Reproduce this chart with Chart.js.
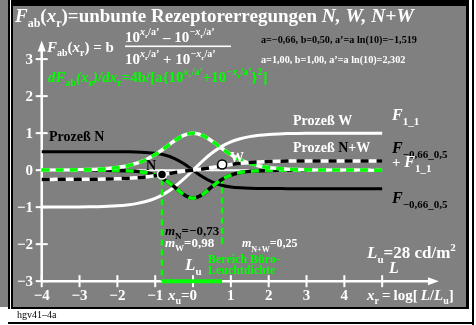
<!DOCTYPE html>
<html><head><meta charset="utf-8">
<script src="https://cdn.jsdelivr.net/npm/chart.js@4/dist/chart.umd.min.js"></script>
<style>html,body{margin:0;padding:0;background:#fff;overflow:hidden}canvas{display:block}</style>
</head><body>
<canvas id="c" width="476" height="325" style="width:476px;height:325px"></canvas>
<script>
// ---- data ----
const xr = [-4,-3.75,-3.5,-3.25,-3,-2.75,-2.5,-2.25,-2,-1.75,-1.5,-1.25,-1,-0.75,-0.5,-0.25,0,0.25,0.5,0.75,1,1.25,1.5,1.75,2,2.25,2.5,2.75,3,3.25,3.5,3.75,4,4.25,4.5,4.75,5];
const procW = [-0.999,-0.999,-0.998,-0.997,-0.995,-0.992,-0.987,-0.978,-0.964,-0.941,-0.905,-0.848,-0.762,-0.635,-0.462,-0.245,0,0.245,0.462,0.635,0.762,0.848,0.905,0.941,0.964,0.978,0.987,0.992,0.995,0.997,0.998,0.999,0.999,1,1,1,1];
const procN = [0.5,0.5,0.5,0.5,0.5,0.5,0.5,0.499,0.498,0.495,0.49,0.478,0.454,0.407,0.32,0.181,0,-0.181,-0.32,-0.407,-0.454,-0.478,-0.49,-0.495,-0.498,-0.499,-0.5,-0.5,-0.5,-0.5,-0.5,-0.5,-0.5,-0.5,-0.5,-0.5,-0.5];
const procNW = [-0.25,-0.25,-0.249,-0.249,-0.248,-0.246,-0.244,-0.24,-0.233,-0.223,-0.208,-0.185,-0.154,-0.114,-0.071,-0.032,0,0.032,0.071,0.114,0.154,0.185,0.208,0.223,0.233,0.24,0.244,0.246,0.248,0.249,0.249,0.25,0.25,0.25,0.25,0.25,0.25];
const slopeW = [0.001,0.002,0.004,0.006,0.01,0.016,0.027,0.044,0.071,0.114,0.181,0.28,0.42,0.597,0.786,0.94,1,0.94,0.786,0.597,0.42,0.28,0.181,0.114,0.071,0.044,0.027,0.016,0.01,0.006,0.004,0.002,0.001,0.001,0.001,0,0];
const slopeN = [0,0,0,0,0,-0.001,-0.002,-0.003,-0.007,-0.015,-0.032,-0.065,-0.133,-0.257,-0.448,-0.659,-0.758,-0.659,-0.448,-0.257,-0.133,-0.065,-0.032,-0.015,-0.007,-0.003,-0.002,-0.001,0,0,0,0,0,0,0,0,0];
const zeroLine = [0,0];
const zeroLineX = [-4,5];
const markerN = [-0.82,-0.12];
const markerW = [0.77,0.15];
const officeRange = [-0.82,0.77];
const guideN = [-0.25,-3];
const guideW = [-0.2,-2];
const xTicks = [-4,-3,-2,-1,0,1,2,3,4,5];
const xTickLabels = ['−4','−3','−2','−1','','1','2','3','4',''];
const yTicks = [-3,-2,-1,0,1,2,3];
const yTickLabels = ['−3','−2','−1','0','1','2','3'];
const axisX = [-4,6.5];
const axisY = [-3,3.5];

// ---- styles ----
const GRAY = '#808080', GREEN = '#00ff00', WHITE = '#ffffff', BLACK = '#000000';
const FONT = '"Liberation Serif","Times New Roman",serif';

const pts = ys => xr.map((x,i)=>({x, y: ys[i]}));
const line = (data, color, width, dash, order, extra) => Object.assign({
  data, borderColor: color, borderWidth: width, borderDash: dash || [],
  pointRadius: 0, fill: false, order, cubicInterpolationMode: 'monotone', borderCapStyle: 'butt'
}, extra || {});

function S(t, s, i, dy, c){ return {t, s, i: !!i, dy: dy || 0, c}; }
function rich(ctx, x, y, segs, color, align, weight){
  const w = weight || 'bold';
  let total = 0;
  segs.forEach(g => { ctx.font = (g.i ? 'italic ' : '') + w + ' ' + g.s + 'px ' + FONT; total += ctx.measureText(g.t).width; });
  if (align === 'right') x -= total; else if (align === 'center') x -= total / 2;
  ctx.textAlign = 'left'; ctx.textBaseline = 'alphabetic';
  segs.forEach(g => {
    ctx.font = (g.i ? 'italic ' : '') + w + ' ' + g.s + 'px ' + FONT;
    ctx.fillStyle = g.c || color;
    ctx.fillText(g.t, x, y + g.dy);
    x += ctx.measureText(g.t).width;
  });
  return x;
}
function expo(s){ // superscript x_r/a'
  return [S(s + 'x', 10, 1, -7), S('r', 7, 0, -4), S('/a’', 10, 0, -7)];
}

const deco = {
  id: 'deco',
  beforeDraw(chart){
    const ctx = chart.ctx;
    ctx.save();
    ctx.fillStyle = WHITE; ctx.fillRect(0, 0, 476, 325);
    ctx.fillStyle = GRAY; ctx.fillRect(0, 0, 8, 307);
    ctx.fillStyle = BLACK; ctx.fillRect(8, 0, 2, 309);
    ctx.fillRect(11, 0, 458, 309);
    ctx.fillRect(472, 0, 2, 325);
    ctx.fillRect(8, 322, 466, 2);
    const a = chart.chartArea;
    ctx.fillStyle = GRAY; ctx.fillRect(a.left, a.top, a.right - a.left, a.bottom - a.top);
    ctx.restore();
  },
  beforeDatasetsDraw(chart){
    const ctx = chart.ctx, xs = chart.scales.x, ys = chart.scales.y;
    ctx.save();
    const x0 = xs.getPixelForValue(axisX[0]), x1 = xs.getPixelForValue(axisX[1]);
    const y0 = ys.getPixelForValue(axisY[0]), y1 = ys.getPixelForValue(axisY[1]);
    ctx.strokeStyle = WHITE; ctx.fillStyle = WHITE; ctx.lineWidth = 2.5;
    ctx.beginPath(); ctx.moveTo(x0, y0); ctx.lineTo(x1 - 8, y0); ctx.stroke();
    ctx.beginPath(); ctx.moveTo(x0, y0); ctx.lineTo(x0, y1 + 8); ctx.stroke();
    ctx.beginPath(); ctx.moveTo(x1, y0); ctx.lineTo(x1 - 11, y0 - 4); ctx.lineTo(x1 - 11, y0 + 4); ctx.closePath(); ctx.fill();
    ctx.beginPath(); ctx.moveTo(x0, y1); ctx.lineTo(x0 - 4, y1 + 11); ctx.lineTo(x0 + 4, y1 + 11); ctx.closePath(); ctx.fill();
    ctx.lineWidth = 2;
    xTicks.forEach((v, i) => {
      const px = xs.getPixelForValue(v);
      ctx.beginPath(); ctx.moveTo(px, y0 - 6); ctx.lineTo(px, y0 + 6); ctx.stroke();
      if (xTickLabels[i]) rich(ctx, px, 300, [S(xTickLabels[i], 15)], WHITE, 'center');
    });
    yTicks.forEach((v, i) => {
      const py = ys.getPixelForValue(v);
      ctx.beginPath(); ctx.moveTo(x0 - 6, py); ctx.lineTo(x0 + 6, py); ctx.stroke();
      rich(ctx, 33, py + 5, [S(yTickLabels[i], 15)], WHITE, 'right');
    });
    ctx.restore();
  },
  afterDatasetsDraw(chart){
    const ctx = chart.ctx, xs = chart.scales.x;
    ctx.save();
    // title
    rich(ctx, 15, 22, [S('F',19,1), S('ab',12,0,5), S('(',19), S('x',19,1), S('r',12,0,5), S(')=unbunte Rezeptorerregungen ',19), S('N, W, N+W',19.5,1)], WHITE);
    // formula
    rich(ctx, 47, 52, [S('F',15,1), S('ab',10,0,4), S('(',15), S('x',15,1), S('r',10,0,4), S(') = b',15)], WHITE);
    rich(ctx, 125, 41.5, [S('10',15)].concat(expo(''), [S(' – 10',15)], expo('−')), WHITE);
    rich(ctx, 125, 64, [S('10',15)].concat(expo(''), [S(' + 10',15)], expo('−')), WHITE);
    ctx.fillStyle = WHITE; ctx.fillRect(125, 45.5, 106, 1.6);
    // derivative formula
    rich(ctx, 48, 82, [S('dF',15,1), S('ab',10,0,4), S('(x',15,1), S('r',10,0,4), S(')/dx',15,1), S('r',10,0,4), S('=4b/[a{10',15)].concat(expo(''), [S('+10',15)], expo('−'), [S('}',15), S('2',10,0,-7), S(']',15)]), GREEN);
    // parameters
    rich(ctx, 261, 43, [S('a=−0,66, b=0,50, a’=a ln(10)=−1,519', 10.2)], BLACK);
    rich(ctx, 261, 63, [S('a=1,00, b=1,00, a’=a ln(10)=2,302', 10.2)], WHITE);
    // process labels
    rich(ctx, 49, 141, [S('Prozeß N', 14)], BLACK);
    rich(ctx, 293, 125, [S('Prozeß W', 14)], WHITE);
    rich(ctx, 293, 152, [S('Prozeß ', 14), S('N', 14, 0, 0, BLACK), S('+W', 14)], WHITE);
    rich(ctx, 392, 120, [S('F',16,1), S('1_1',11,0,5)], WHITE);
    rich(ctx, 392, 153, [S('F',16,1), S('−0,66_0,5',11,0,5)], BLACK);
    rich(ctx, 392, 167, [S('+ ',15), S('F',16,1), S('1_1',11,0,5)], WHITE);
    rich(ctx, 392, 203, [S('F',16,1), S('−0,66_0,5',11,0,5)], BLACK);
    rich(ctx, 146, 170, [S('N', 14)], BLACK);
    rich(ctx, 230, 161.5, [S('W', 14)], WHITE);
    // slopes
    rich(ctx, 165, 235, [S('m',13,1), S('N',9,0,4), S('=−0,73',13)], BLACK);
    rich(ctx, 165, 247, [S('m',13,1), S('W',9,0,4), S('=0,98',13)], WHITE);
    rich(ctx, 242, 247, [S('m',12,1), S('N+W',8,0,5), S('=0,25',12)], WHITE);
    rich(ctx, 185, 270, [S('L',17,1), S('u',11,0,5)], WHITE);
    rich(ctx, 208, 263, [S('Bereich Büro-',12)], GREEN);
    rich(ctx, 208, 273.5, [S('Leuchtdichte',12)], GREEN);
    rich(ctx, 367, 258, [S('L',17,1), S('u',11,0,5), S('=28 cd/m',17), S('2',11,0,-7)], WHITE);
    rich(ctx, 389, 273, [S('L',16,1)], WHITE);
    // axis names
    rich(ctx, xs.getPixelForValue(0) + 4, 300, [S('x',15,1), S('u',10,0,4), S('=0',15)], WHITE, 'right');
    rich(ctx, 367, 300, [S('x',15,1), S('r',10,0,4), S('\u2009=\u2009log[\u2009',15), S('L',15,1), S('/',15), S('L',15,1), S('u',10,0,4), S(']',15)], WHITE);
    rich(ctx, 17, 318, [S('hgv41–4a', 10)], BLACK, 'left', 'normal');
    ctx.restore();
  }
};

const vline = (xv, range) => [{x: xv, y: range[0]}, {x: xv, y: range[1]}];

new Chart(document.getElementById('c'), {
  type: 'line',
  data: {
    datasets: [
      line([{x: zeroLineX[0], y: zeroLine[0]}, {x: zeroLineX[1], y: zeroLine[1]}], WHITE, 2, null, 100),
      line(pts(procW), WHITE, 3, null, 90),
      line(pts(procN), BLACK, 3, null, 85),
      line(vline(officeRange[0], guideN), GREEN, 2.5, [6,4], 80),
      line(vline(officeRange[1], guideW), GREEN, 2.5, [6,4], 80),
      line(pts(slopeN), BLACK, 3.5, null, 70),
      line(pts(slopeN), GREEN, 3.5, [8,6], 69),
      line(pts(slopeW), WHITE, 3.5, null, 60),
      line(pts(slopeW), GREEN, 3.5, [8,6], 59),
      line(pts(procNW), WHITE, 3.5, null, 50),
      line(pts(procNW), BLACK, 3.5, [8,8], 49),
      line([{x: officeRange[0], y: -3}, {x: officeRange[1], y: -3}], GREEN, 4, null, 40),
      {type: 'scatter', data: [{x: markerN[0], y: markerN[1]}], pointRadius: 4.5, pointBackgroundColor: BLACK, pointBorderColor: WHITE, pointBorderWidth: 1.5, showLine: false, order: 10},
      {type: 'scatter', data: [{x: markerW[0], y: markerW[1]}], pointRadius: 4.5, pointBackgroundColor: WHITE, pointBorderColor: BLACK, pointBorderWidth: 1.5, showLine: false, order: 10}
    ]
  },
  options: {
    responsive: false, animation: false, devicePixelRatio: 1,
    layout: {padding: {left: 13, right: 10, top: 2, bottom: 18}},
    plugins: {legend: {display: false}, tooltip: {enabled: false}},
    scales: {
      x: {type: 'linear', min: -4.759, max: 7.216, display: false},
      y: {type: 'linear', min: -3.698, max: 4.435, display: false}
    },
    elements: {line: {tension: 0.4}}
  },
  plugins: [deco]
});
</script>
</body></html>
